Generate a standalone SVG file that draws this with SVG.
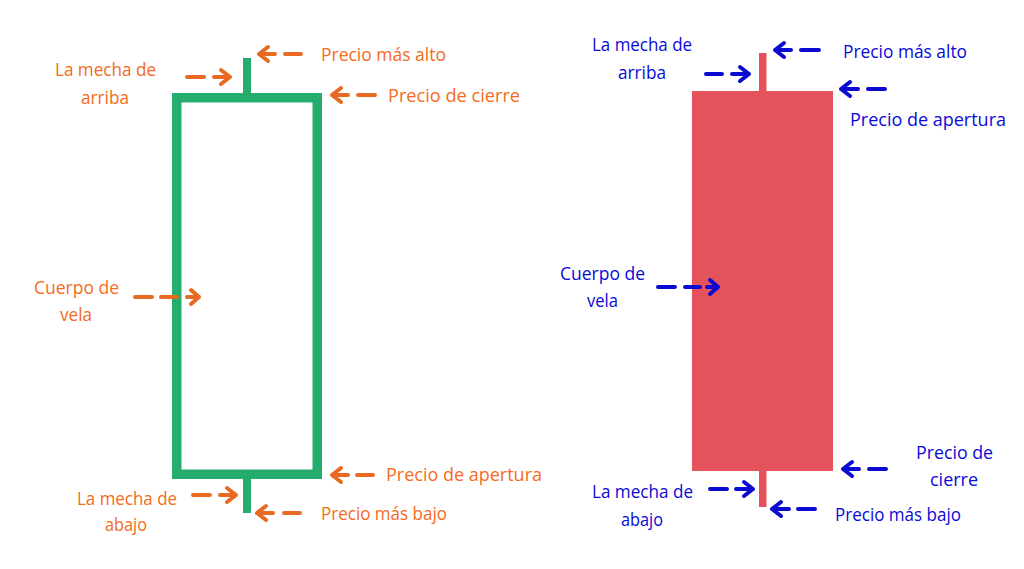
<svg xmlns="http://www.w3.org/2000/svg" width="1024" height="569" viewBox="0 0 1024 569">
<style>
text{font-family:"Open Sans","Liberation Sans",sans-serif;font-size:18px}
.o text{fill:#f46b1c}
.b text{fill:#0a0ad8}
.a{fill:none;stroke-width:4;stroke-linecap:round;stroke-linejoin:round}
.ao{stroke:#e86a22}
.ab{stroke:#0a0ad0}
.g{fill:#25ad6e}
.r{fill:#e4525c}
</style>
<rect width="1024" height="569" fill="#ffffff"/>
<g id="candle-green">
<rect class="g" x="243" y="58" width="8" height="40"/>
<rect class="g" x="243" y="475" width="8" height="38"/>
<rect x="176.750" y="97.750" width="140.500" height="376.500" fill="#ffffff" stroke="#25ad6e" stroke-width="9.500"/>
</g>
<g id="candle-red">
<rect class="r" x="759" y="53" width="7.500" height="454"/>
<rect class="r" x="692" y="91" width="141" height="380"/>
</g>
<g id="connectors">
<g class="a ao">
<path d="M259 54H275M259 54L268 47M259 54L268 61M285 54H301"/>
<path d="M187 77H204M214 77H229M230 77L221 70M230 77L221 84"/>
<path d="M332 95H348M332 95L341 88M332 95L341 102M358 95H375"/>
<path d="M135 297H152M161 297H177M187 297H199M199 297L191 290M199 297L191 304"/>
<path d="M332 475H348M332 475L341 468M332 475L341 482M357 475H373"/>
<path d="M193 495H210M220 495H236M236 495L227 488M236 495L227 502"/>
<path d="M257 513H273M257 513L266 506M257 513L266 520M284 513H300"/>
</g>
<g class="a ab">
<path d="M775 50H791M775 50L784 43M775 50L784 57M801 50H819"/>
<path d="M706 74H722M732 74H748M749 74L740 67M749 74L740 81"/>
<path d="M841 89H858M841 89L850 82M841 89L850 96M868 89H885"/>
<path d="M658 287H675M685 287H700M707 287H718M718 287L710 280M718 287L710 294"/>
<path d="M843 469H859M843 469L852 462M843 469L852 476M869 469H886"/>
<path d="M710 489H727M736 489H752M753 489L744 482M753 489L744 496"/>
<path d="M772 509H789M772 509L781 502M772 509L781 516M798 509H815"/>
</g>
</g>
<g id="labels-orange" class="o">
<g id="o-mecha-arriba"><text x="55" y="76" textLength="101" lengthAdjust="spacingAndGlyphs">La mecha de</text><text x="81" y="104" textLength="48" lengthAdjust="spacingAndGlyphs">arriba</text></g>
<g id="o-alto"><text x="321" y="61" textLength="125" lengthAdjust="spacingAndGlyphs">Precio más alto</text></g>
<g id="o-cierre"><text x="388" y="102" textLength="132" lengthAdjust="spacingAndGlyphs">Precio de cierre</text></g>
<g id="o-cuerpo"><text x="34" y="294" textLength="85" lengthAdjust="spacingAndGlyphs">Cuerpo de</text><text x="60" y="321" textLength="32" lengthAdjust="spacingAndGlyphs">vela</text></g>
<g id="o-apertura"><text x="386" y="481" textLength="156" lengthAdjust="spacingAndGlyphs">Precio de apertura</text></g>
<g id="o-mecha-abajo"><text x="77" y="505" textLength="100" lengthAdjust="spacingAndGlyphs">La mecha de</text><text x="105" y="531" textLength="42" lengthAdjust="spacingAndGlyphs">abajo</text></g>
<g id="o-bajo"><text x="321" y="520" textLength="126" lengthAdjust="spacingAndGlyphs">Precio más bajo</text></g>
</g>
<g id="labels-blue" class="b">
<g id="b-mecha-arriba"><text x="592" y="51" textLength="100" lengthAdjust="spacingAndGlyphs">La mecha de</text><text x="618" y="79" textLength="48" lengthAdjust="spacingAndGlyphs">arriba</text></g>
<g id="b-alto"><text x="843" y="58" textLength="124" lengthAdjust="spacingAndGlyphs">Precio más alto</text></g>
<g id="b-apertura"><text x="850" y="126" textLength="156" lengthAdjust="spacingAndGlyphs">Precio de apertura</text></g>
<g id="b-cuerpo"><text x="560" y="280" textLength="85" lengthAdjust="spacingAndGlyphs">Cuerpo de</text><text x="587" y="307" textLength="31" lengthAdjust="spacingAndGlyphs">vela</text></g>
<g id="b-cierre"><text x="916" y="459" textLength="77" lengthAdjust="spacingAndGlyphs">Precio de</text><text x="930" y="486" textLength="48" lengthAdjust="spacingAndGlyphs">cierre</text></g>
<g id="b-mecha-abajo"><text x="592" y="498" textLength="101" lengthAdjust="spacingAndGlyphs">La mecha de</text><text x="621" y="526" textLength="42" lengthAdjust="spacingAndGlyphs">abajo</text></g>
<g id="b-bajo"><text x="835" y="521" textLength="126" lengthAdjust="spacingAndGlyphs">Precio más bajo</text></g>
</g>
</svg>
